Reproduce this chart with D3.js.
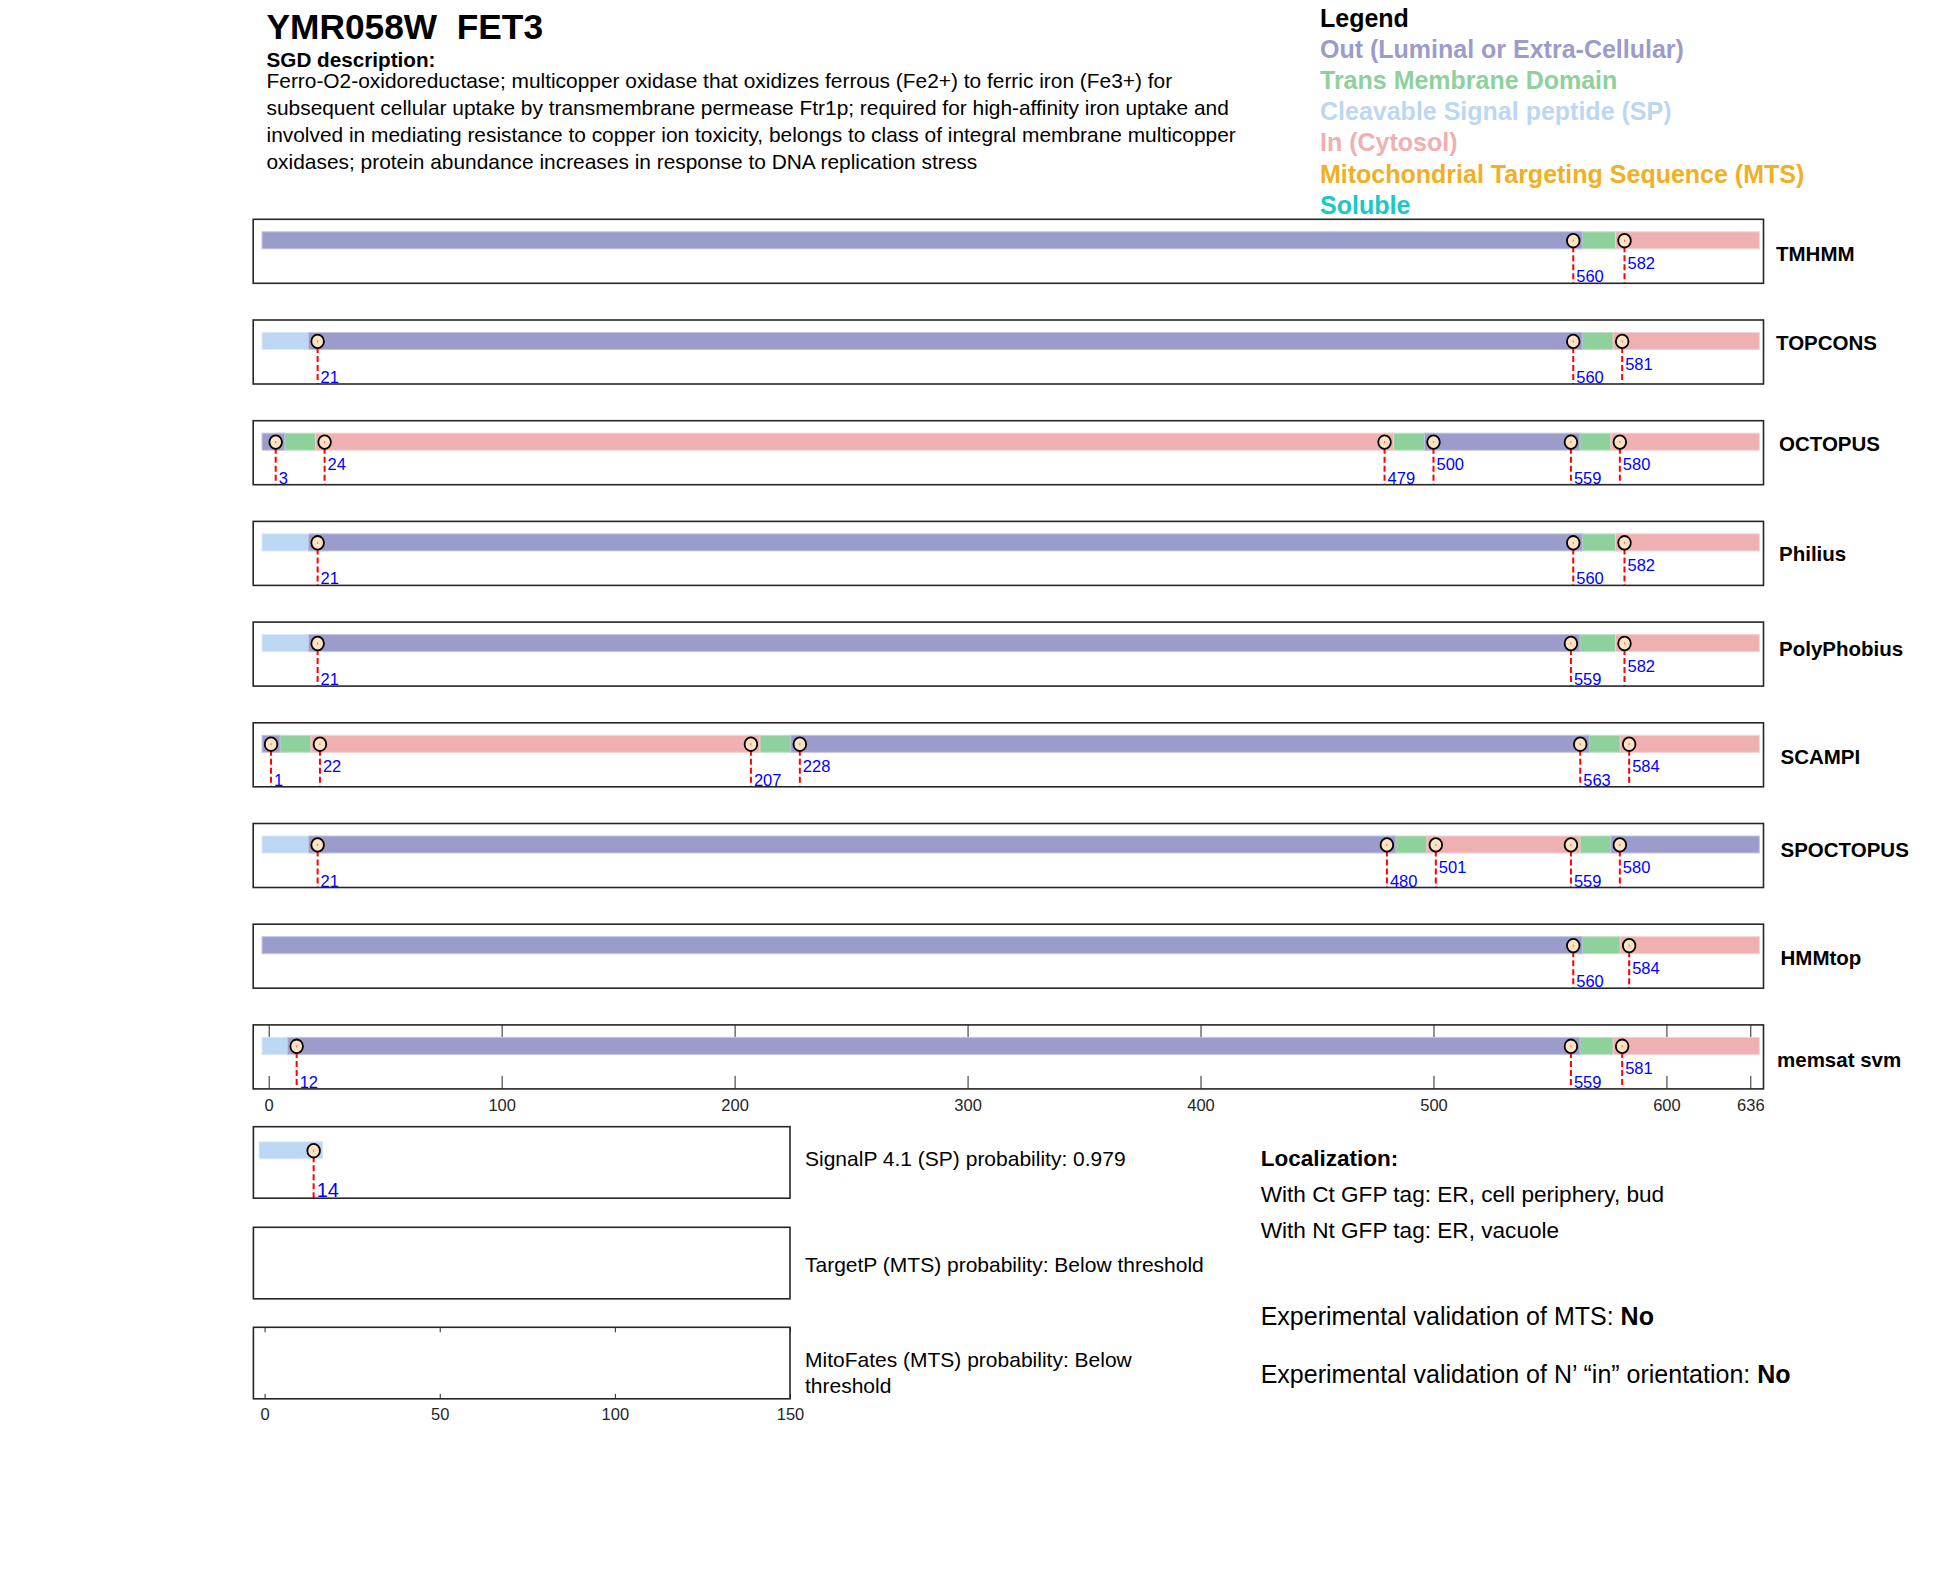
<!DOCTYPE html>
<html>
<head>
<meta charset="utf-8">
<script src="https://cdn.jsdelivr.net/npm/d3@7"></script>
<style>
  body { margin: 0; background: #fff; }
  text { font-family: 'Liberation Sans', Arial, Helvetica, sans-serif; }
</style>
</head>
<body>
<script>
// ---- data ----
var geneTitle = "YMR058W  FET3";
var descLines = [
  "Ferro-O2-oxidoreductase; multicopper oxidase that oxidizes ferrous (Fe2+) to ferric iron (Fe3+) for",
  "subsequent cellular uptake by transmembrane permease Ftr1p; required for high-affinity iron uptake and",
  "involved in mediating resistance to copper ion toxicity, belongs to class of integral membrane multicopper",
  "oxidases; protein abundance increases in response to DNA replication stress"
];
var proteinLength = 636;

var methods = ["TMHMM", "TOPCONS", "OCTOPUS", "Philius", "PolyPhobius", "SCAMPI", "SPOCTOPUS", "HMMtop", "memsat svm"];
var topology = [
  ["out", "tm", "in"],
  ["sp", "out", "tm", "in"],
  ["out", "tm", "in", "tm", "out", "tm", "in"],
  ["sp", "out", "tm", "in"],
  ["sp", "out", "tm", "in"],
  ["out", "tm", "in", "tm", "out", "tm", "in"],
  ["sp", "out", "tm", "in", "tm", "out"],
  ["out", "tm", "in"],
  ["sp", "out", "tm", "in"]
];
var boundaries = [
  [560, 582],
  [21, 560, 581],
  [3, 24, 479, 500, 559, 580],
  [21, 560, 582],
  [21, 559, 582],
  [1, 22, 207, 228, 563, 584],
  [21, 480, 501, 559, 580],
  [560, 584],
  [12, 559, 581]
];
var mainTicks = [0, 100, 200, 300, 400, 500, 600, 636];

var signalPSite = 14;
var signalPProb = "0.979";
var smallTicks = [0, 50, 100, 150];

var legendNames = ["Out (Luminal or Extra-Cellular)", "Trans Membrane Domain", "Cleavable Signal peptide (SP)",
                   "In (Cytosol)", "Mitochondrial Targeting Sequence (MTS)", "Soluble"];
var legendKeys = ["out", "tm", "sp", "in", "mts", "soluble"];

var colors = {
  out: "#9b9ccb", tm: "#8fd19c", sp: "#bcd7f4", "in": "#efb0b1", mts: "#f0b023", soluble: "#19c8c8"
};

// ---- layout ----
var width = 1950, height = 1573;
var boxLeft = 253.2, boxRight = 1763.5, boxTop0 = 219.3, rowStep = 100.7, boxH = 64;
var barH = 18, cap = 9;
var nameBase = [41.4, 29.7, 30, 40, 33.5, 41.2, 33.2, 40.8, 41.7];
var nameDx = [0, 0, 3, 3, 3, 4.5, 4.5, 4.5, 1];
var ink = "#262626";

var svg = d3.select("body").append("svg")
    .attr("width", width)
    .attr("height", height);

var x = d3.scaleLinear().domain([0, proteinLength]).range([268.7, 1750.3]);
var xs = d3.scaleLinear().domain([0, 150]).range([264.6, 790]);

// title + description
svg.append("text").attr("x", 266.5).attr("y", 39.3)
    .style("white-space", "pre")
    .style("font-size", "35.3px").style("font-weight", "bold")
    .text(geneTitle);
svg.append("text").attr("x", 266.5).attr("y", 66.5)
    .style("font-size", "20.7px").style("font-weight", "bold")
    .text("SGD description:");
svg.selectAll(".desc").data(descLines)
  .enter().append("text")
    .attr("class", "desc")
    .attr("x", 266.5)
    .attr("y", function(d, i) { return 87.5 + i * 27.3; })
    .style("font-size", "20.9px")
    .text(function(d) { return d; });

// legend
svg.append("text").attr("x", 1320).attr("y", 27)
    .style("font-size", "25px").style("font-weight", "bold")
    .text("Legend");
svg.selectAll(".leg").data(legendNames)
  .enter().append("text")
    .attr("class", "leg")
    .attr("x", 1320)
    .attr("y", function(d, i) { return 58.1 + i * 31.1; })
    .style("font-size", "25px").style("font-weight", "bold")
    .style("fill", function(d, i) { return colors[legendKeys[i]]; })
    .text(function(d) { return d; });

function drawTrack(g, scale, segs, marks, yc, bottom, labelSize, upperGap) {
  // TM pieces first, the others are drawn over them with square ends
  var ordered = segs.filter(function(s) { return s.type === "tm"; })
      .concat(segs.filter(function(s) { return s.type !== "tm"; }));
  g.selectAll(".seg").data(ordered)
    .enter().append("rect")
      .attr("class", "seg")
      .attr("x", function(s) { return scale(s.a) - (s.type === "tm" ? 0 : cap); })
      .attr("width", function(s) { return scale(s.b) - scale(s.a) + (s.type === "tm" ? 0 : 2 * cap); })
      .attr("y", yc - barH / 2 + 0.5)
      .attr("height", barH - 1)
      .style("fill", function(s) { return colors[s.type]; })
      .style("stroke", function(s) { return d3.interpolateRgb(colors[s.type], "#fff")(0.4); })
      .style("stroke-width", 1);

  var m = g.selectAll(".mark").data(marks)
    .enter().append("g").attr("class", "mark");
  m.append("line")
      .attr("x1", function(d) { return scale(d); })
      .attr("x2", function(d) { return scale(d); })
      .attr("y1", yc + 6).attr("y2", bottom)
      .style("stroke", "#ff0000").style("stroke-width", 2)
      .style("stroke-dasharray", "6,3");
  m.append("ellipse")
      .attr("cx", function(d) { return scale(d); })
      .attr("cy", yc + 0.4)
      .attr("rx", 6.3).attr("ry", 6.8)
      .style("fill", "#fde3c2").style("stroke", "#000").style("stroke-width", 1.8);
  m.append("line")
      .attr("x1", function(d) { return scale(d); })
      .attr("x2", function(d) { return scale(d); })
      .attr("y1", yc - 0.6).attr("y2", yc + 1.4)
      .style("stroke", "#ff5050").style("stroke-width", 0.9);
  m.append("text")
      .attr("x", function(d) { return scale(d) + 3; })
      .attr("y", function(d, k) {
        var close = k > 0 && d - marks[k - 1] < 50;
        return close ? bottom - upperGap : bottom - 1;
      })
      .style("font-size", labelSize + "px")
      .style("fill", "#0000ff")
      .text(function(d) { return d; });
}

// main prediction rows
methods.forEach(function(name, i) {
  var top = boxTop0 + i * rowStep;
  var g = svg.append("g");
  var edges = [1].concat(boundaries[i]).concat([proteinLength]);
  var segs = topology[i].map(function(t, k) { return { type: t, a: edges[k], b: edges[k + 1] }; });

  if (i === methods.length - 1) {
    g.append("g").attr("transform", "translate(0," + top + ")")
        .call(d3.axisTop(x).tickValues(mainTicks).tickSize(-13).tickFormat(""))
        .call(function(a) { a.select(".domain").remove(); });
    var ax = g.append("g").attr("transform", "translate(0," + (top + boxH) + ")")
        .call(d3.axisBottom(x).tickValues(mainTicks).tickSize(-13).tickPadding(10));
    ax.select(".domain").remove();
    ax.selectAll("text").style("font-size", "16.5px").style("fill", ink)
        .style("font-family", "'Liberation Sans', Arial, sans-serif");
    g.selectAll(".tick line").style("stroke", ink);
  }

  drawTrack(g, x, segs, boundaries[i], top + 21, top + boxH, 16.5, 14.5);

  g.append("rect")
      .attr("x", boxLeft).attr("y", top)
      .attr("width", boxRight - boxLeft).attr("height", boxH)
      .style("fill", "none").style("stroke", ink).style("stroke-width", 1.6);

  g.append("text")
      .attr("x", 1776 + nameDx[i])
      .attr("y", top + nameBase[i])
      .style("font-size", "20.5px").style("font-weight", "bold")
      .text(name);
});

// small boxes (SignalP, TargetP, MitoFates)
var smallTops = [1126.7, 1227.3, 1327.3];
var smallH = 71.5;
smallTops.forEach(function(top, j) {
  var g = svg.append("g");
  if (j === 0) {
    drawTrack(g, xs, [{ type: "sp", a: 1, b: signalPSite }], [signalPSite], top + 23.6, top + smallH, 20, 16);
  }
  if (j === 2) {
    g.append("g").attr("transform", "translate(0," + top + ")")
        .call(d3.axisTop(xs).tickValues(smallTicks).tickSize(-5).tickFormat(""))
        .call(function(a) { a.select(".domain").remove(); });
    var ax = g.append("g").attr("transform", "translate(0," + (top + smallH) + ")")
        .call(d3.axisBottom(xs).tickValues(smallTicks).tickSize(-5).tickPadding(9));
    ax.select(".domain").remove();
    ax.selectAll("text").style("font-size", "16.5px").style("fill", ink)
        .style("font-family", "'Liberation Sans', Arial, sans-serif");
  }
  g.selectAll(".tick line").style("stroke", ink);
  g.append("rect")
      .attr("x", 253.4).attr("y", top)
      .attr("width", 790 - 253.4).attr("height", smallH)
      .style("fill", "none").style("stroke", ink).style("stroke-width", 1.6);
});

var sideText = [
  { y: 1165.7, t: "SignalP 4.1 (SP) probability: " + signalPProb },
  { y: 1271.7, t: "TargetP (MTS) probability: Below threshold" },
  { y: 1366.7, t: "MitoFates (MTS) probability: Below" },
  { y: 1393.3, t: "threshold" }
];
svg.selectAll(".side").data(sideText)
  .enter().append("text")
    .attr("class", "side")
    .attr("x", 805)
    .attr("y", function(d) { return d.y; })
    .style("font-size", "21px")
    .text(function(d) { return d.t; });

// localization block
svg.append("text").attr("x", 1260.7).attr("y", 1166)
    .style("font-size", "22.5px").style("font-weight", "bold")
    .text("Localization:");
svg.append("text").attr("x", 1260.7).attr("y", 1201.7)
    .style("font-size", "22.6px")
    .text("With Ct GFP tag: ER, cell periphery, bud");
svg.append("text").attr("x", 1260.7).attr("y", 1238.3)
    .style("font-size", "22.6px")
    .text("With Nt GFP tag: ER, vacuole");

var ev1 = svg.append("text").attr("x", 1260.7).attr("y", 1325).style("font-size", "25px");
ev1.append("tspan").text("Experimental validation of MTS: ");
ev1.append("tspan").style("font-weight", "bold").text("No");
var ev2 = svg.append("text").attr("x", 1260.7).attr("y", 1383.3).style("font-size", "25px");
ev2.append("tspan").text("Experimental validation of N\u2019 \u201cin\u201d orientation: ");
ev2.append("tspan").style("font-weight", "bold").text("No");
</script>
</body>
</html>
